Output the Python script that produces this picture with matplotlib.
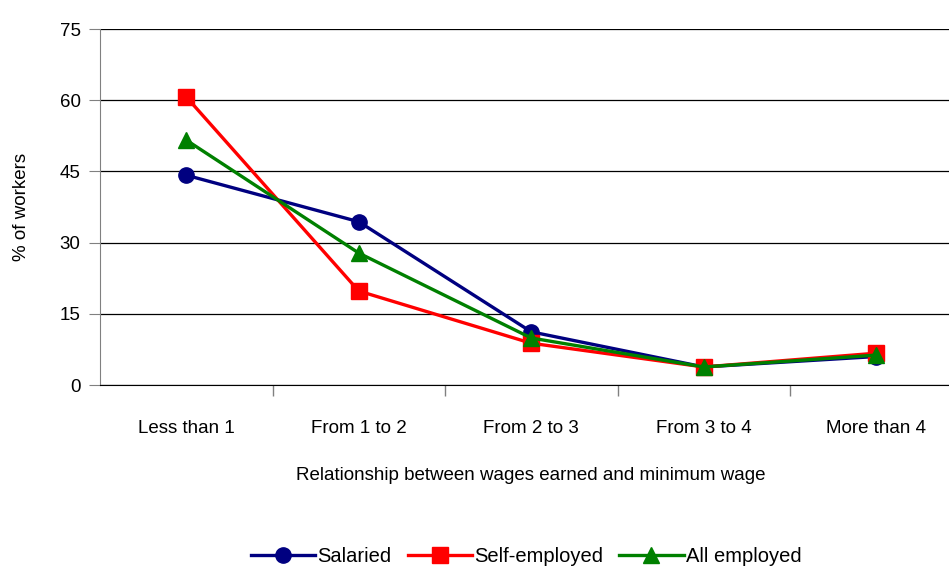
import matplotlib
matplotlib.use("Agg")
import matplotlib.pyplot as plt

categories = ["Less than 1", "From 1 to 2", "From 2 to 3", "From 3 to 4", "More than 4"]
salaried = [44.2, 34.4, 11.2, 3.8, 6.0]
self_employed = [60.7, 19.8, 8.8, 3.8, 6.7]
all_employed = [51.6, 27.8, 9.9, 3.8, 6.3]
y_ticks = [0, 15, 30, 45, 60, 75]

plt.rcParams["font.family"] = ["Liberation Sans", "DejaVu Sans"]

W, H = 949, 570
fig = plt.figure(figsize=(W / 100, H / 100), dpi=100)
left, right, top, bottom = 100, 962.5, 29, 385
ax = fig.add_axes([left / W, 1 - bottom / H, (right - left) / W, (bottom - top) / H])

x = list(range(len(categories)))
ax.plot(x, salaried, color="#000080", lw=2.4, marker="o", ms=11, label="Salaried", zorder=3)
ax.plot(x, self_employed, color="#FF0000", lw=2.4, marker="s", ms=11, label="Self-employed", zorder=4)
ax.plot(x, all_employed, color="#008000", lw=2.4, marker="^", ms=12, label="All employed", zorder=5)

fs = 13.5
ax.set_xlim(-0.5, len(categories) - 0.5)
ax.set_ylim(0, 75)
ax.set_yticks(y_ticks)
ax.set_xticks(x)
ax.set_xticklabels(categories, fontsize=fs)
ax.set_xticks([i + 0.5 for i in range(len(categories) - 1)], minor=True)
ax.tick_params(axis="x", which="major", length=0, pad=25)
ax.tick_params(axis="x", which="minor", length=8, color="#808080", width=1)
ax.tick_params(axis="y", length=8, color="#808080", labelsize=fs, pad=6)
ax.grid(axis="y", color="black", lw=0.9)
ax.set_axisbelow(True)

for s in ("top", "right"):
    ax.spines[s].set_visible(False)
ax.spines["left"].set_color("#808080")
ax.spines["bottom"].set_color("black")

ax.set_ylabel("% of workers", fontsize=fs, labelpad=21)
ax.set_xlabel("Relationship between wages earned and minimum wage", fontsize=fs, labelpad=22)

fig.legend(loc="center", bbox_to_anchor=(526 / W, 1 - 557 / H), ncol=3, frameon=False,
           fontsize=14.5, handlelength=3.2, handletextpad=0.1, columnspacing=0.8)

fig.savefig("out.png", dpi=100)
